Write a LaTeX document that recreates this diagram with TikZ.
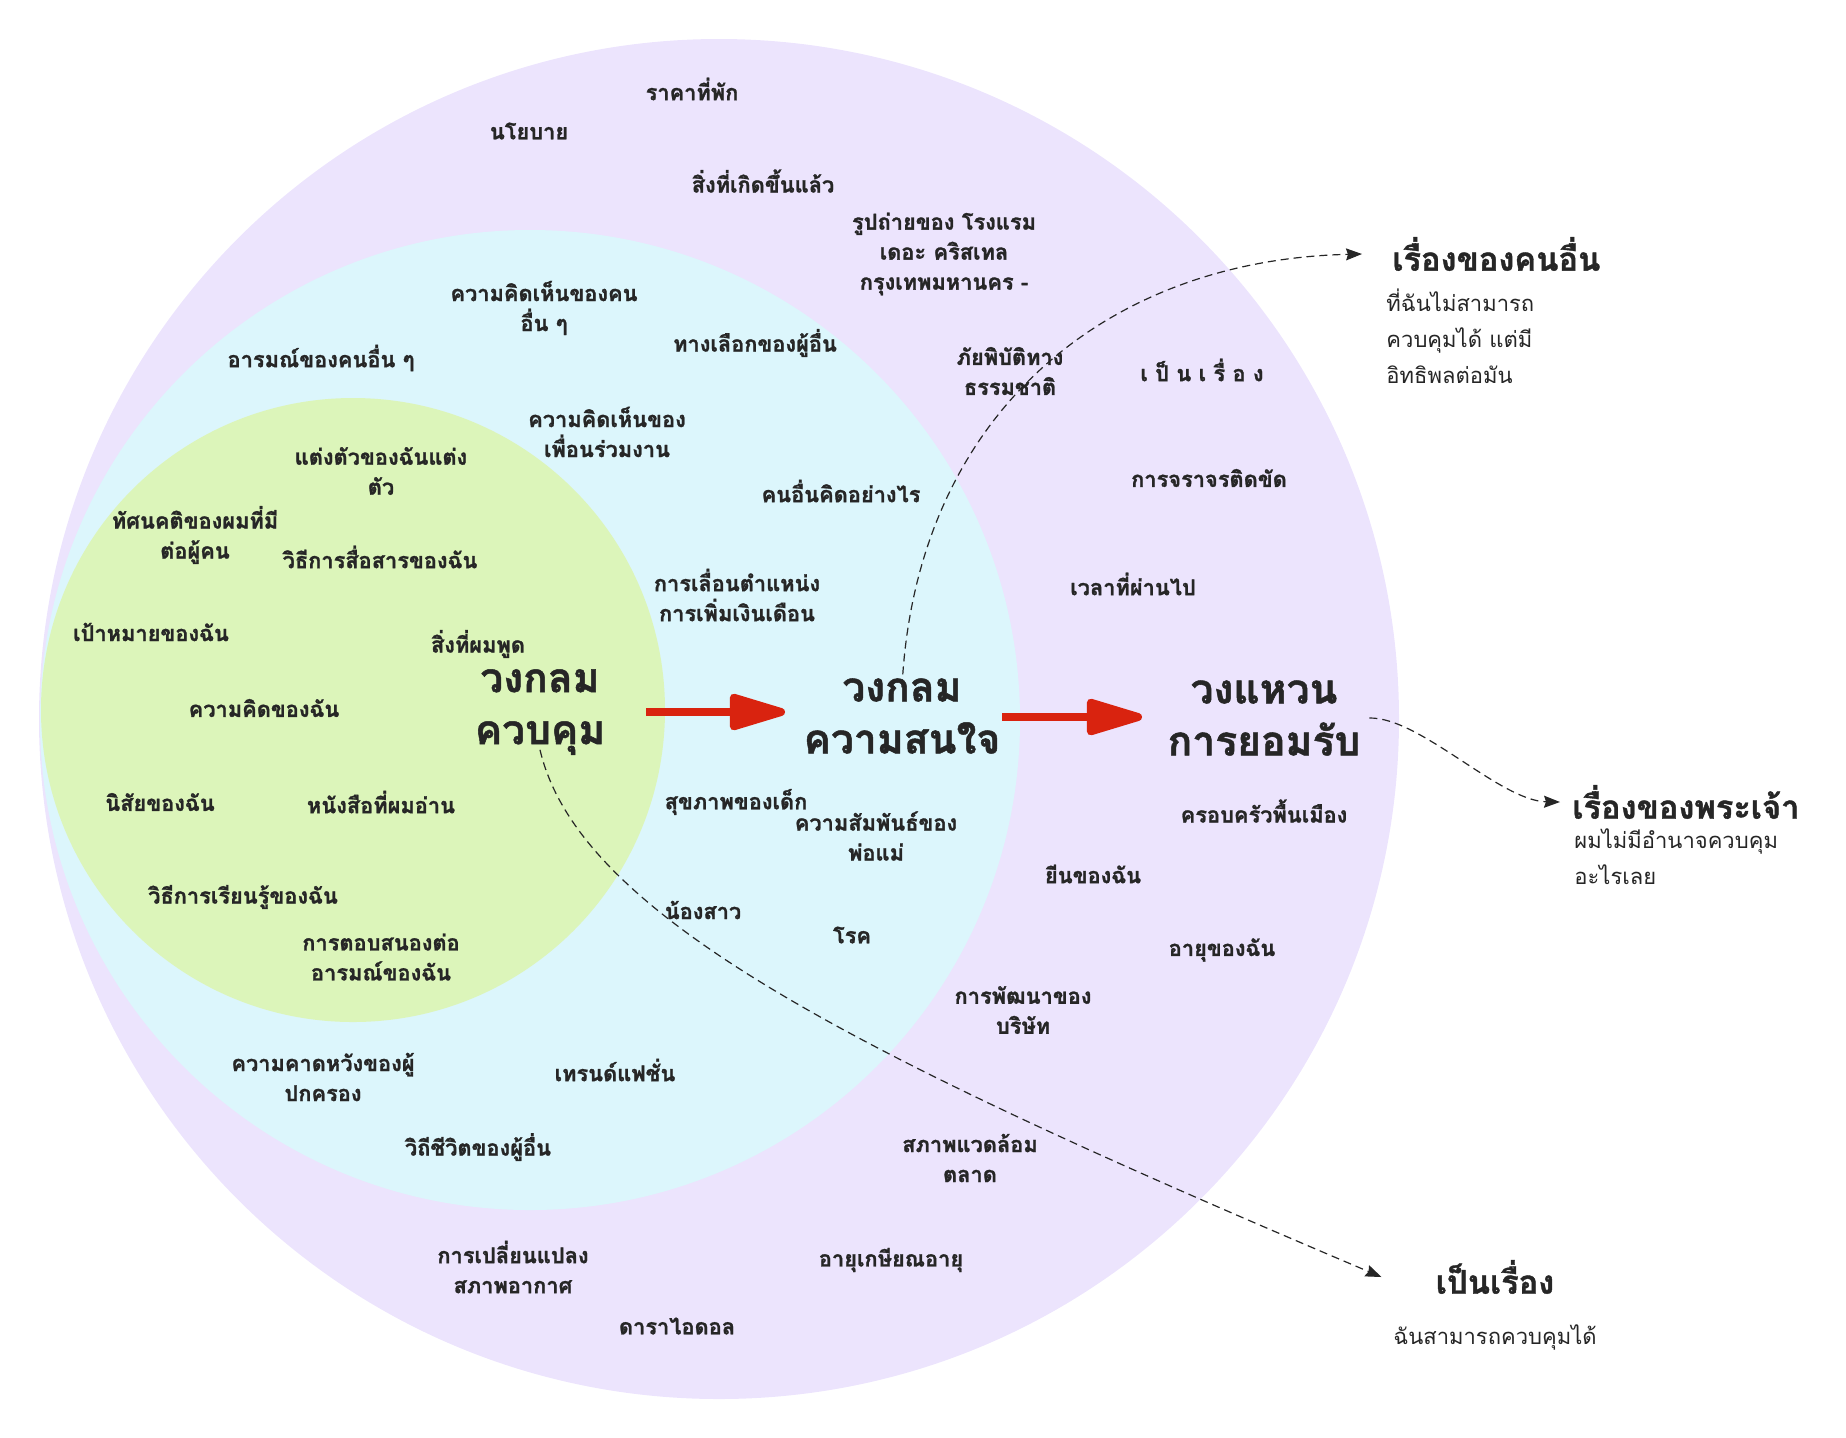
\documentclass[tikz,border=0pt]{standalone}
\usepackage{fontspec}
\usetikzlibrary{arrows.meta}
\newfontfamily\thaifont[Script=Thai, BoldFeatures={FakeBold=1.2}]{Loma}

\definecolor{ringpurple}{RGB}{236,228,253}
\definecolor{circcyan}{RGB}{220,246,252}
\definecolor{circgreen}{RGB}{220,245,186}
\definecolor{arrowred}{RGB}{217,35,15}
\definecolor{inkdark}{RGB}{38,38,38}

\tikzset{
  lbl/.style={align=center, text=inkdark, font=\thaifont\bfseries\fontsize{10.9}{15}\selectfont},
  ttl/.style={align=center, text=inkdark, font=\thaifont\bfseries\fontsize{20.4}{26}\selectfont},
  hdg/.style={text=inkdark, inner sep=0pt, font=\thaifont\bfseries\fontsize{16.3}{18}\selectfont},
  subtxt/.style={text=inkdark, inner sep=0pt, align=left, font=\thaifont\fontsize{11}{18}\selectfont},
  bigarrow/.style={arrowred, line width=4pt, -{Triangle[length=33pt, width=18.5pt, round]}},
  thinlink/.style={inkdark, line width=0.6pt, dash pattern=on 4pt off 2.5pt, -{Stealth[length=8pt, width=6pt, inset=1pt]}}
}

\begin{document}
\begin{tikzpicture}[x=0.5pt, y=-0.5pt]
        \useasboundingbox (0,0) rectangle (1846,1437);

        % three nested circles
        \fill[ringpurple] (719,719) circle [radius=340pt];
        \fill[circcyan] (530,720) circle [radius=245pt];
        \fill[circgreen] (353,710) circle [radius=156pt];

        % outer ring
        \node[lbl] (n01) at (692,89) {ราคาที่พัก};
        \node[lbl] (n02) at (529,131) {นโยบาย};
        \node[lbl] (n03) at (763,181) {สิ่งที่เกิดขึ้นแล้ว};
        \node[lbl] (n04) at (944,254) {รูปถ่ายของ โรงแรม\\เดอะ คริสเทล\\กรุงเทพมหานคร -};
        \node[lbl] (n08) at (1010,371) {ภัยพิบัติทาง\\ธรรมชาติ};
        \node[lbl] (n09) at (1202,370) {เ ป็ น เ รื่ อ ง};
        \node[lbl] (n15) at (1209,478) {การจราจรติดขัด};
        \node[lbl] (n17) at (1133,584) {เวลาที่ผ่านไป};
        \node[lbl] (n28) at (1264,811) {ครอบครัวพื้นเมือง};
        \node[lbl] (n29) at (1093,874) {ยีนของฉัน};
        \node[lbl] (n34) at (1222,950) {อายุของฉัน};
        \node[lbl] (n35) at (1023,1010) {การพัฒนาของ\\บริษัท};
        \node[lbl] (n39) at (970,1158) {สภาพแวดล้อม\\ตลาด};
        \node[lbl] (n40) at (513,1267) {การเปลี่ยนแปลง\\สภาพอากาศ};
        \node[lbl] (n41) at (891,1260) {อายุเกษียณอายุ};
        \node[lbl] (n42) at (677,1326) {ดาราไอดอล};

        % middle circle
        \node[lbl] (n05) at (544,308) {ความคิดเห็นของคน\\อื่น ๆ};
        \node[lbl] (n06) at (321,358) {อารมณ์ของคนอื่น ๆ};
        \node[lbl] (n07) at (755,343) {ทางเลือกของผู้อื่น};
        \node[lbl] (n10) at (607,432) {ความคิดเห็นของ\\เพื่อนร่วมงาน};
        \node[lbl] (n14) at (841,491) {คนอื่นคิดอย่างไร};
        \node[lbl] (n16) at (737,595) {การเลื่อนตำแหน่ง\\การเพิ่มเงินเดือน};
        \node[lbl] (n26) at (736,802) {สุขภาพของเด็ก};
        \node[lbl] (n27) at (876,836) {ความสัมพันธ์ของ\\พ่อแม่};
        \node[lbl] (n31) at (703,910) {น้องสาว};
        \node[lbl] (n32) at (852,935) {โรค};
        \node[lbl] (n36) at (323,1077) {ความคาดหวังของผู้\\ปกครอง};
        \node[lbl] (n37) at (615,1070) {เทรนด์แฟชั่น};
        \node[lbl] (n38) at (478,1147) {วิถีชีวิตของผู้อื่น};

        % inner circle
        \node[lbl] (n11) at (381,471) {แต่งตัวของฉันแต่ง\\ตัว};
        \node[lbl] (n12) at (195,535) {ทัศนคติของผมที่มี\\ต่อผู้คน};
        \node[lbl] (n13) at (380,557) {วิธีการสื่อสารของฉัน};
        \node[lbl] (n18) at (151,632) {เป้าหมายของฉัน};
        \node[lbl] (n19) at (478,644) {สิ่งที่ผมพูด};
        \node[lbl] (n21) at (264,708) {ความคิดของฉัน};
        \node[lbl] (n24) at (160,802) {นิสัยของฉัน};
        \node[lbl] (n25) at (381,802) {หนังสือที่ผมอ่าน};
        \node[lbl] (n30) at (243,897) {วิธีการเรียนรู้ของฉัน};
        \node[lbl] (n33) at (381,957) {การตอบสนองต่อ\\อารมณ์ของฉัน};

        % circle titles
        \node[ttl] (ctrl) at (540,712) {วงกลม\\ควบคุม};
        \node[ttl] (interest) at (902,716) {วงกลม\\ความสนใจ};
        \node[ttl] (accept) at (1264,718) {วงแหวน\\การยอมรับ};

        % red arrows between titles
        \coordinate (r1a) at (646,712);
        \coordinate (r1b) at (785,712);
        \coordinate (r2a) at (1002,717);
        \coordinate (r2b) at (1142,717);
        \draw[bigarrow] (r1a) -- (r1b);
        \draw[bigarrow] (r2a) -- (r2b);

        % notes on the right
        \node[hdg, anchor=west] (others) at (1392,254) {เรื่องของคนอื่น};
        \node[subtxt, anchor=west] (othersnote) at (1386,336) {ที่ฉันไม่สามารถ\\ควบคุมได้ แต่มี\\อิทธิพลต่อมัน};
        \node[hdg, anchor=west] (god) at (1572,802) {เรื่องของพระเจ้า};
        \node[subtxt, anchor=west] (godnote) at (1574,857) {ผมไม่มีอำนาจควบคุม\\อะไรเลย};
        \node[hdg] (mine) at (1495,1277) {เป็นเรื่อง};
        \node[subtxt] (minenote) at (1495,1337) {ฉันสามารถควบคุมได้};

        % dashed links
        \draw[thinlink] ([yshift=-8pt]interest.north) .. controls (915,420) and (1100,260) .. ([xshift=-15pt]others.west);
        \draw[thinlink] ([xshift=1pt]accept.east) .. controls (1420,717) and (1500,801) .. ([xshift=-6pt]god.west);
        \draw[thinlink] ([yshift=6pt]ctrl.south) .. controls (580,920) and (870,1060) .. ([xshift=-27pt]mine.west);

\end{tikzpicture}
\end{document}
